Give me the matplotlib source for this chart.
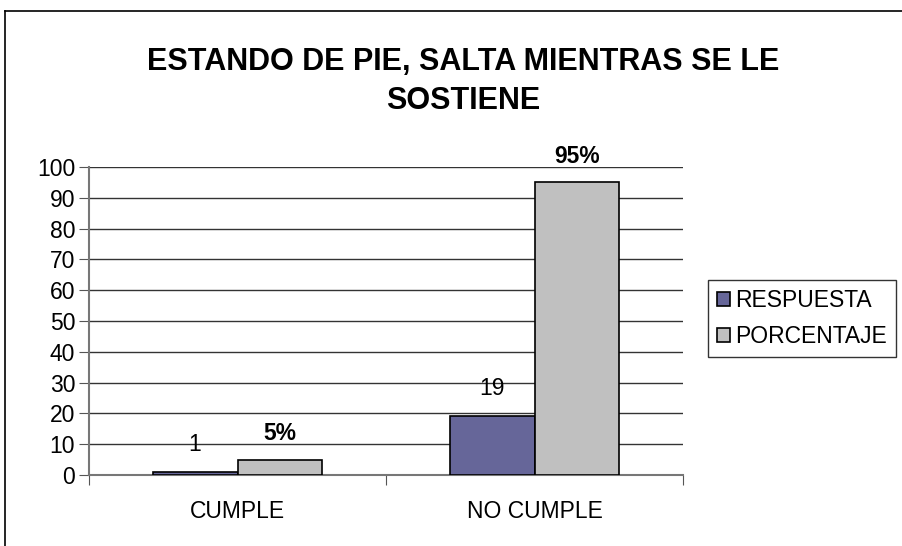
import matplotlib
matplotlib.use("Agg")
import matplotlib.pyplot as plt
from matplotlib.lines import Line2D

plt.rcParams['font.family'] = ['Liberation Sans', 'DejaVu Sans']

# datos
categorias = ['CUMPLE', 'NO CUMPLE']
respuesta = [1, 19]
porcentaje = [5, 95]
etiquetas_resp = ['1', '19']
etiquetas_porc = ['5%', '95%']
series = ['RESPUESTA', 'PORCENTAJE']
yticks = list(range(0, 101, 10))

fs = 16.5

fig = plt.figure(figsize=(9.02, 5.46), dpi=100)
ax = fig.add_axes([89/902, 1-475/546, (683-89)/902, (475-167)/546])

x = list(range(len(categorias)))
w = 0.286
b1 = ax.bar([i - w/2 for i in x], respuesta, w, color='#666699', edgecolor='black',
            linewidth=1.2, label=series[0], zorder=3)
b2 = ax.bar([i + w/2 for i in x], porcentaje, w, color='#C0C0C0', edgecolor='black',
            linewidth=1.2, label=series[1], zorder=3)

# etiquetas de datos
for r, t in zip(b1, etiquetas_resp):
    ax.annotate(t, (r.get_x() + r.get_width()/2, r.get_height()), xytext=(0, 20),
                textcoords='offset points', ha='center', va='center', fontsize=fs)
for r, t in zip(b2, etiquetas_porc):
    ax.annotate(t, (r.get_x() + r.get_width()/2, r.get_height()), xytext=(0, 19),
                textcoords='offset points', ha='center', va='center', fontsize=fs,
                fontweight='bold')

ax.set_xlim(-0.5, 1.5)
ax.set_ylim(0, 100)
ax.set_yticks(yticks)
ax.yaxis.grid(True, color='#333333', linewidth=1)
ax.set_axisbelow(True)
ax.set_xticks([-0.5, 0.5, 1.5])
ax.set_xticklabels([])
ax.set_xticks(x, minor=True)
ax.set_xticklabels(categorias, minor=True)
ax.tick_params(axis='x', which='major', length=7, color='#555555')
ax.tick_params(axis='x', which='minor', length=0, pad=18, labelsize=fs)
ax.tick_params(axis='y', length=7, color='#555555', labelsize=fs, pad=3)
for s in ['top', 'right']:
    ax.spines[s].set_visible(False)
ax.spines['left'].set_color('#777777')
ax.spines['bottom'].set_color('#777777')
ax.spines['left'].set_linewidth(1.5)
ax.spines['bottom'].set_linewidth(1.5)

fig.text(463/902, 1-62/546, 'ESTANDO DE PIE, SALTA MIENTRAS SE LE', ha='center', va='center',
         fontsize=22, fontweight='bold')
fig.text(463/902, 1-101/546, 'SOSTIENE', ha='center', va='center',
         fontsize=22, fontweight='bold')

# marco exterior
fig.add_artist(Line2D([4.5/902, 4.5/902], [0, 1-11/546], color='black', linewidth=1.2))
fig.add_artist(Line2D([4.5/902, 1], [1-11/546, 1-11/546], color='black', linewidth=1.2))

leg = fig.legend(loc='upper left', bbox_to_anchor=(708/902, 1-280/546), fontsize=fs,
                 frameon=True, fancybox=False, edgecolor='black', handlelength=0.55,
                 handleheight=0.55, handletextpad=0.25, borderpad=0.4, labelspacing=0.55,
                 borderaxespad=0)
leg.get_frame().set_linewidth(1)

fig.savefig('out.png', dpi=100)
